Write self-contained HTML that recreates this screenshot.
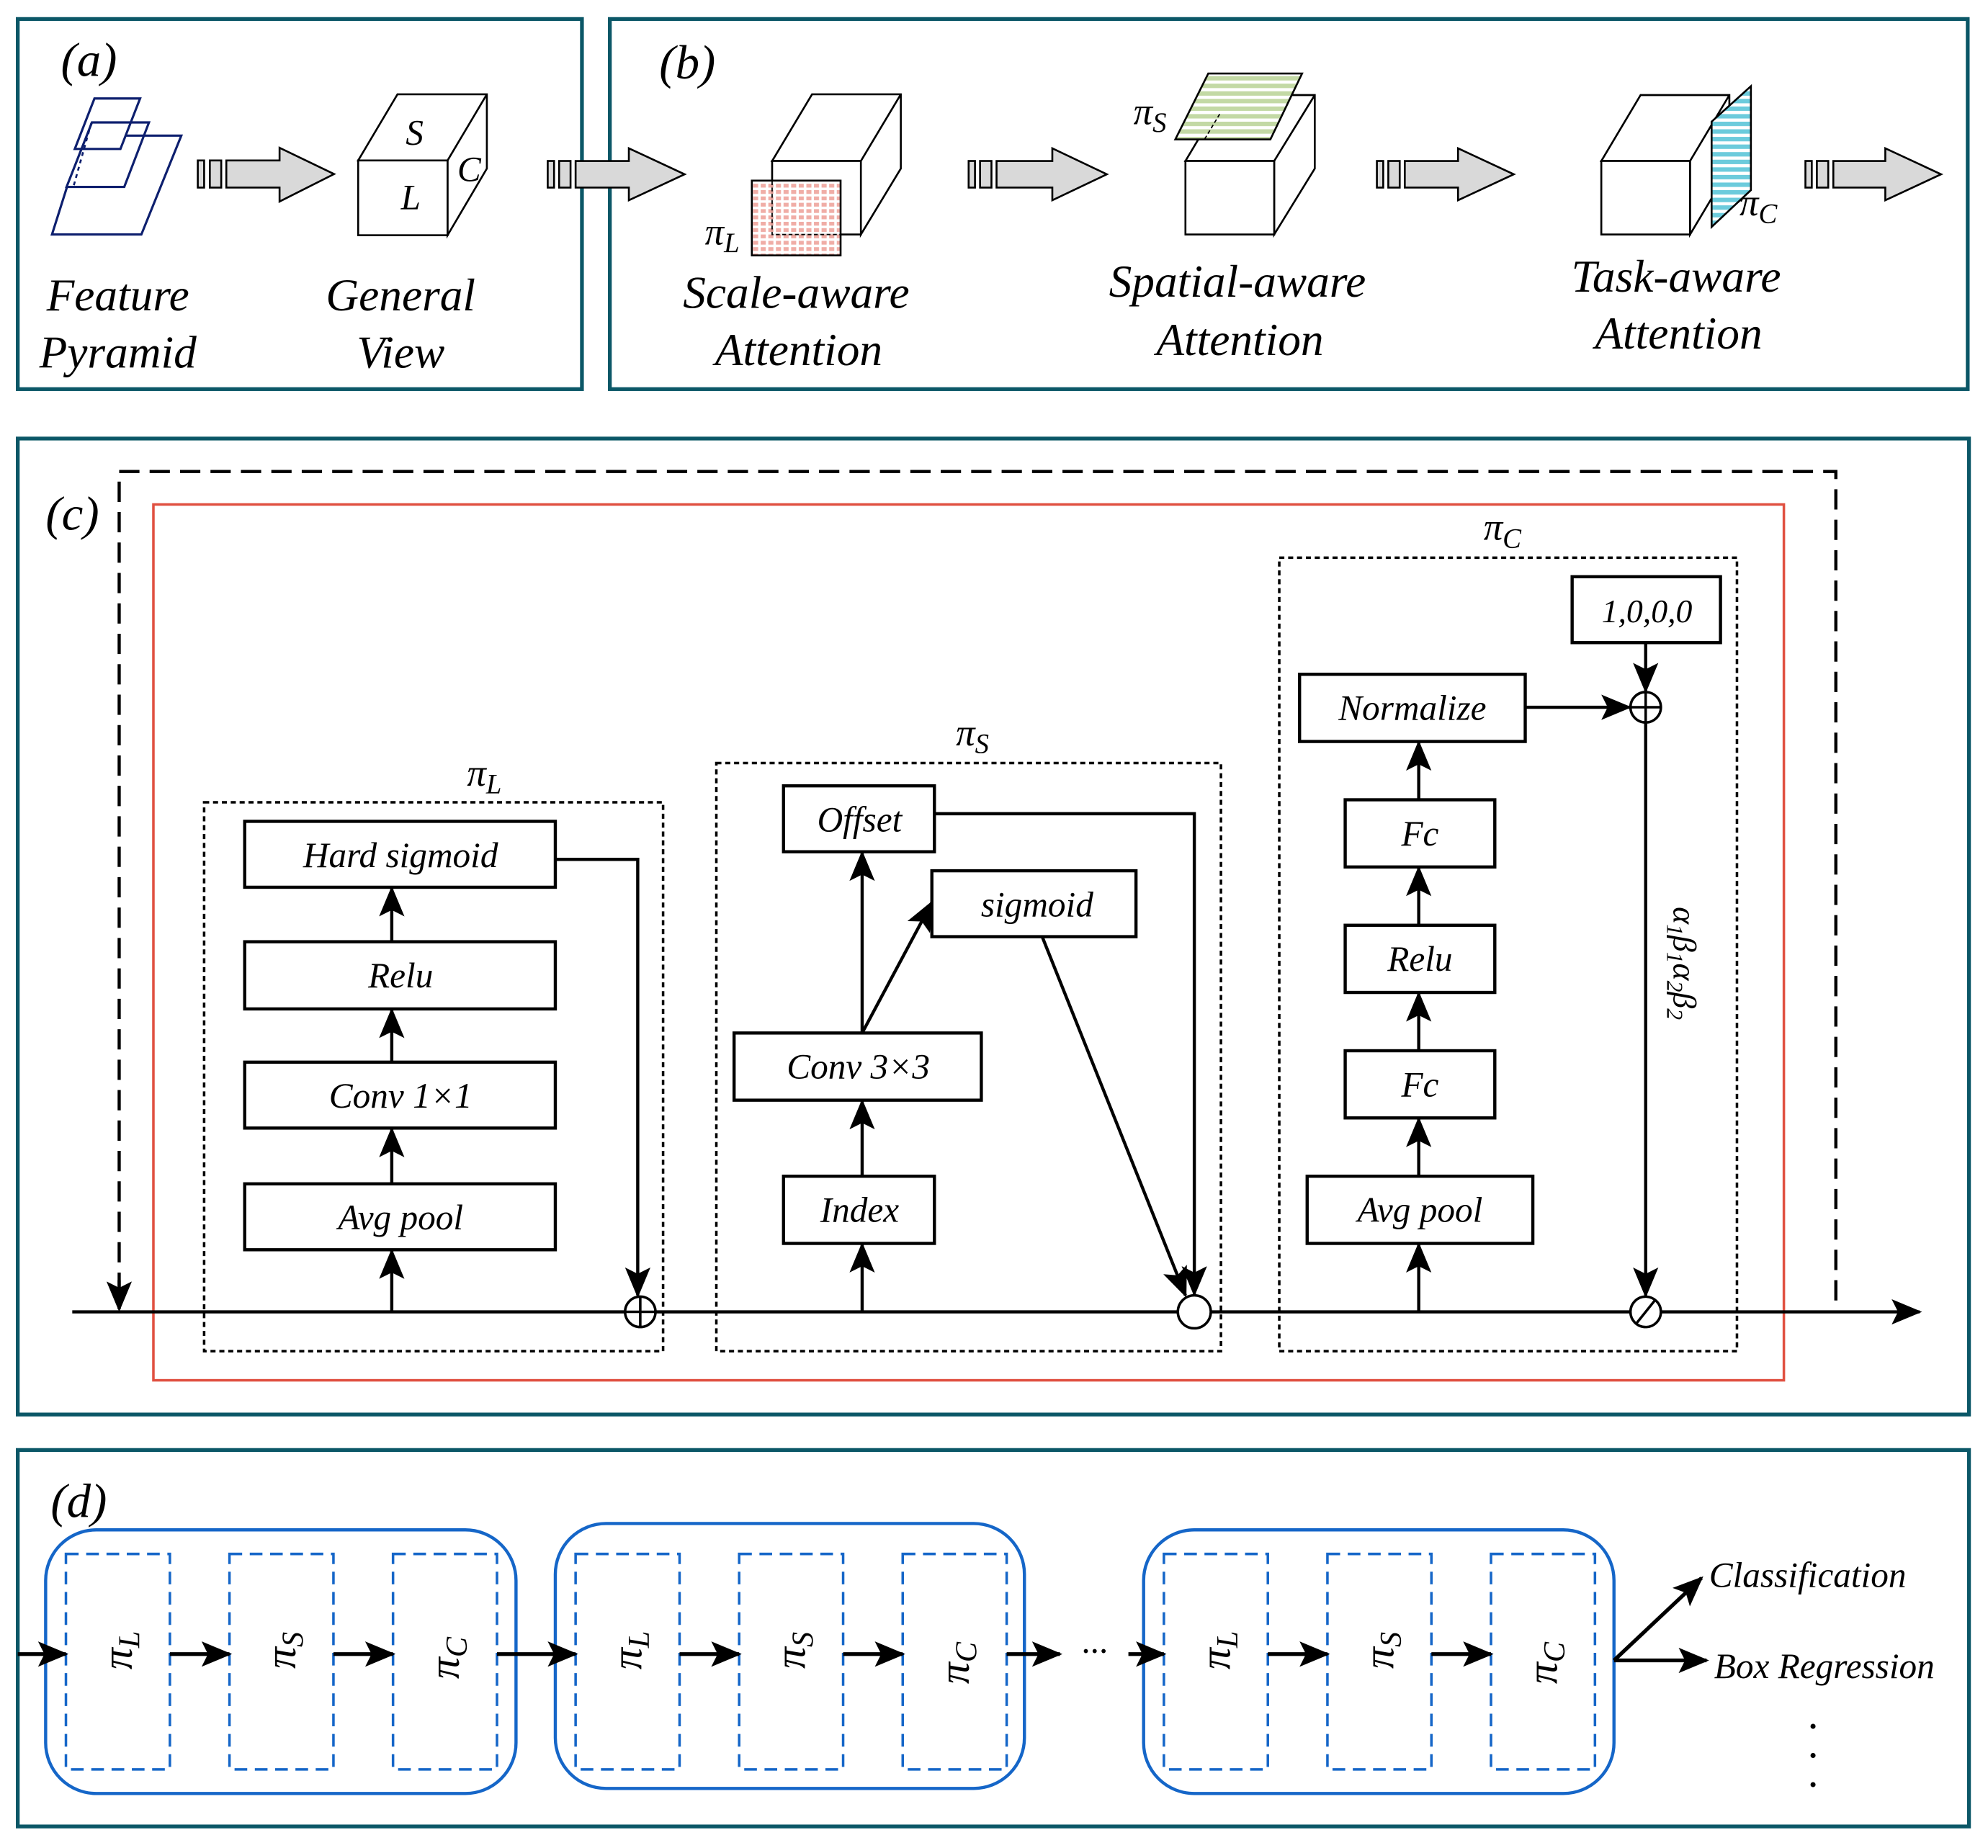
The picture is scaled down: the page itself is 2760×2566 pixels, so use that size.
<!DOCTYPE html>
<html><head><meta charset="utf-8">
<style>
html,body{margin:0;padding:0;background:#fff;}
svg{display:block;}
text{font-family:"Liberation Serif",serif;font-style:italic;fill:#000;}
</style></head>
<body>
<svg width="2760" height="2566" viewBox="0 0 1568 1458" preserveAspectRatio="none" xmlns="http://www.w3.org/2000/svg">
<defs>
<marker id="ah" markerWidth="10" markerHeight="10" refX="9" refY="5" orient="auto" markerUnits="userSpaceOnUse" viewBox="0 0 10 10">
<path d="M0,0 L10,5 L0,10 Z" fill="#000"/></marker>
<marker id="ahb" markerWidth="24" markerHeight="20" refX="22" refY="10" orient="auto" markerUnits="userSpaceOnUse" viewBox="0 0 24 20">
<path d="M0,0 L24,10 L0,20 L5,10 Z" fill="#000"/></marker>
<pattern id="pr" width="6" height="5" patternUnits="userSpaceOnUse"><rect width="6" height="5" fill="#fff"/><rect width="4" height="3" fill="#eea49c"/></pattern>
<pattern id="pg" width="10" height="6" patternUnits="userSpaceOnUse"><rect width="10" height="6" fill="#fff"/><rect width="10" height="3.5" fill="#c3d9a5"/></pattern>
<pattern id="pb" width="10" height="6" patternUnits="userSpaceOnUse"><rect width="10" height="6" fill="#fff"/><rect width="10" height="3.5" fill="#6ccbdc"/></pattern>
</defs>

<g fill="none" stroke="#0b5767" stroke-width="3">
<rect x="14" y="15" width="445" height="292"/>
<rect x="481" y="15" width="1071" height="292"/>
<rect x="14" y="346" width="1539" height="770"/>
<rect x="14" y="1144" width="1539" height="297"/>
</g>

<text x="48" y="60" font-size="38">(a)</text>
<g fill="none" stroke="#0d1f6e" stroke-width="1.8">
<path d="M98.5,107 H143 L111.5,185 H41 L53,147"/>
<path d="M72.5,96.6 H117.5 L98,147.5 H52.5 Z"/>
<path d="M74.5,77.7 H110.5 L95,117.5 H59 Z"/>
</g>
<path d="M72,97 L58,147" stroke="#0d1f6e" stroke-width="1.5" stroke-dasharray="3,3" fill="none"/>
<g stroke="#000" stroke-width="1.5" fill="#d9d9d9">
<rect x="156" y="126.6" width="5" height="21.4"/><rect x="165.5" y="126.6" width="9" height="21.4"/>
<path d="M178.5,126.6 H220.5 V116.6 L263.5,137.3 L220.5,159 V148 H178.5 Z"/>
</g>
<g stroke="#000" stroke-width="1.5" fill="#fff">
<path d="M282.5,126.6 L313.5,74.4 H384 V133 L353,185.6 V126.6 Z"/>
<rect x="282.5" y="126.6" width="70.5" height="59"/>
<path d="M353,126.6 L384,74.4"/>
</g>
<text x="327" y="114" font-size="28" text-anchor="middle">S</text>
<text x="324" y="165" font-size="28" text-anchor="middle">L</text>
<text x="370" y="143" font-size="28" text-anchor="middle">C</text>
<text x="93" y="245" font-size="36" text-anchor="middle">Feature</text>
<text x="93" y="290" font-size="36" text-anchor="middle">Pyramid</text>
<text x="316" y="245" font-size="36" text-anchor="middle">General</text>
<text x="316" y="290" font-size="36" text-anchor="middle">View</text>

<g stroke="#000" stroke-width="1.5" fill="#d9d9d9">
<rect x="432" y="127" width="5" height="21"/><rect x="441" y="127" width="9" height="21"/>
<path d="M454,127 H496 V117 L540,137.5 L496,158 V148 H454 Z"/>
<rect x="764" y="127" width="5" height="21"/><rect x="773" y="127" width="9" height="21"/>
<path d="M786,127 H830 V117 L873,137.5 L830,158 V148 H786 Z"/>
<rect x="1086" y="127" width="5" height="21"/><rect x="1095" y="127" width="9" height="21"/>
<path d="M1108,127 H1150 V117 L1194,137.5 L1150,158 V148 H1108 Z"/>
<rect x="1424" y="127" width="5" height="21"/><rect x="1433" y="127" width="9" height="21"/>
<path d="M1446,127 H1487 V117 L1531,137.5 L1487,158 V148 H1446 Z"/>
</g>

<text x="520" y="62" font-size="38">(b)</text>
<g stroke="#000" stroke-width="1.5" fill="#fff">
<path d="M609,127 L640.5,74.4 H710.5 V133 L679,185 V127 Z"/>
<rect x="609" y="127" width="70" height="58"/><path d="M679,127 L710.5,74.4"/>
</g>
<rect x="593" y="142.5" width="70" height="59" fill="url(#pr)" stroke="#000" stroke-width="1.5" fill-opacity="0.9"/>
<path d="M609,143 V185 H663" stroke="#000" stroke-width="1" fill="none" stroke-dasharray="3,2"/>
<text x="556" y="193" font-size="30">π<tspan font-size="22" dy="6">L</tspan></text>
<text x="628" y="243" font-size="36" text-anchor="middle">Scale-aware</text>
<text x="630" y="288" font-size="36" text-anchor="middle">Attention</text>

<g stroke="#000" stroke-width="1.5" fill="#fff">
<path d="M935,127 L966,75 H1037 V133 L1005,185 V127 Z"/>
<rect x="935" y="127" width="70" height="58"/><path d="M1005,127 L1037,75"/>
</g>
<path d="M953,58 H1027 L1002,110 H927 Z" fill="url(#pg)" stroke="#000" stroke-width="1.5"/>
<path d="M962,90 L950,110" stroke="#000" stroke-width="1" stroke-dasharray="3,2"/>
<text x="894" y="98" font-size="30">π<tspan font-size="22" dy="6">S</tspan></text>
<text x="976" y="234" font-size="36" text-anchor="middle">Spatial-aware</text>
<text x="978" y="280" font-size="36" text-anchor="middle">Attention</text>

<g stroke="#000" stroke-width="1.5" fill="#fff">
<path d="M1263,127 L1294,75 H1364 V133 L1333,185 V127 Z"/>
<rect x="1263" y="127" width="70" height="58"/><path d="M1333,127 L1364,75"/>
</g>
<path d="M1350,96 L1381,68 V150 L1350,179 Z" fill="url(#pb)" stroke="#000" stroke-width="1.5"/>
<text x="1372" y="170" font-size="30">π<tspan font-size="22" dy="6">C</tspan></text>
<text x="1322" y="230" font-size="36" text-anchor="middle">Task-aware</text>
<text x="1324" y="275" font-size="36" text-anchor="middle">Attention</text>

<text x="36" y="418" font-size="38">(c)</text>
<path d="M94,1020 V372 H1448 V1035" fill="none" stroke="#000" stroke-width="2.5" stroke-dasharray="16,8"/>
<path d="M94,1010 V1033" stroke="#000" stroke-width="2.5" marker-end="url(#ahb)"/>
<rect x="121" y="398" width="1286" height="691" fill="none" stroke="#e05040" stroke-width="2"/>
<path d="M57,1035 H1514" stroke="#000" stroke-width="2.5" marker-end="url(#ahb)"/>

<g fill="none" stroke="#000" stroke-width="2" stroke-dasharray="4,3">
<rect x="161" y="633" width="362" height="433"/>
<rect x="565" y="602" width="398" height="464"/>
<rect x="1009" y="440" width="361" height="626"/>
</g>
<text x="382" y="620" font-size="30" text-anchor="middle">π<tspan font-size="22" dy="6">L</tspan></text>
<text x="767" y="588" font-size="30" text-anchor="middle">π<tspan font-size="22" dy="6">S</tspan></text>
<text x="1185" y="426" font-size="30" text-anchor="middle">π<tspan font-size="22" dy="6">C</tspan></text>

<g fill="#fff" stroke="#000" stroke-width="2.5">
<rect x="193" y="648" width="245" height="52"/>
<rect x="193" y="743" width="245" height="53"/>
<rect x="193" y="838" width="245" height="52"/>
<rect x="193" y="934" width="245" height="52"/>
<rect x="618" y="620" width="119" height="52"/>
<rect x="735" y="687" width="161" height="52"/>
<rect x="579" y="815" width="195" height="53"/>
<rect x="618" y="928" width="119" height="53"/>
<rect x="1025" y="532" width="178" height="53"/>
<rect x="1061" y="631" width="118" height="53"/>
<rect x="1061" y="730" width="118" height="53"/>
<rect x="1061" y="829" width="118" height="53"/>
<rect x="1031" y="928" width="178" height="53"/>
<rect x="1240" y="455" width="117" height="52"/>
</g>
<g font-size="28" text-anchor="middle">
<text x="316" y="684">Hard sigmoid</text>
<text x="316" y="779">Relu</text>
<text x="316" y="874">Conv 1×1</text>
<text x="316" y="970">Avg pool</text>
<text x="678" y="656">Offset</text>
<text x="818" y="723">sigmoid</text>
<text x="677" y="851">Conv 3×3</text>
<text x="678" y="964">Index</text>
<text x="1114" y="568">Normalize</text>
<text x="1120" y="667">Fc</text>
<text x="1120" y="766">Relu</text>
<text x="1120" y="865">Fc</text>
<text x="1120" y="964">Avg pool</text>
<text x="1299" y="491" font-size="26">1,0,0,0</text>
</g>

<g stroke="#000" stroke-width="2.5" fill="none">
<path d="M309,1035 V987" marker-end="url(#ahb)"/>
<path d="M309,934 V891" marker-end="url(#ahb)"/>
<path d="M309,838 V797" marker-end="url(#ahb)"/>
<path d="M309,743 V701" marker-end="url(#ahb)"/>
<path d="M438,678 H503 V1022" marker-end="url(#ahb)"/>
<path d="M680,1035 V982" marker-end="url(#ahb)"/>
<path d="M680,928 V869" marker-end="url(#ahb)"/>
<path d="M680,815 V673" marker-end="url(#ahb)"/>
<path d="M680,815 L735,712" marker-end="url(#ahb)"/>
<path d="M737,642 H942 V1021" marker-end="url(#ahb)"/>
<path d="M822,739 L935,1022" marker-end="url(#ahb)"/>
<path d="M1119,1035 V982" marker-end="url(#ahb)"/>
<path d="M1119,928 V883" marker-end="url(#ahb)"/>
<path d="M1119,829 V784" marker-end="url(#ahb)"/>
<path d="M1119,730 V685" marker-end="url(#ahb)"/>
<path d="M1119,631 V586" marker-end="url(#ahb)"/>
<path d="M1203,558 H1285" marker-end="url(#ahb)"/>
<path d="M1298,507 V545" marker-end="url(#ahb)"/>
<path d="M1298,570 V1022" marker-end="url(#ahb)"/>
</g>
<g stroke="#000" stroke-width="2" fill="#fff">
<circle cx="505" cy="1035" r="12"/><path d="M493,1035 H517 M505,1023 V1047"/>
<circle cx="942" cy="1035" r="13"/>
<circle cx="1298" cy="558" r="12"/><path d="M1286,558 H1310 M1298,546 V570"/>
<circle cx="1298" cy="1035" r="12"/><path d="M1290,1045 L1306,1025"/>
</g>
<text transform="translate(1320,760) rotate(90)" font-size="26" text-anchor="middle">α<tspan font-size="18" dy="5">1</tspan><tspan dy="-5">β</tspan><tspan font-size="18" dy="5">1</tspan><tspan dy="-5">α</tspan><tspan font-size="18" dy="5">2</tspan><tspan dy="-5">β</tspan><tspan font-size="18" dy="5">2</tspan></text>

<text x="40" y="1197" font-size="38">(d)</text>
<g fill="none" stroke="#1566c8" stroke-width="2.5">
<rect x="36" y="1207" width="371" height="208" rx="40"/>
<rect x="438" y="1202" width="370" height="209" rx="40"/>
<rect x="902" y="1207" width="371" height="208" rx="40"/>
</g>
<g fill="none" stroke="#1566c8" stroke-width="2" stroke-dasharray="10,6">
<rect x="52" y="1226" width="82" height="170"/><rect x="181" y="1226" width="82" height="170"/><rect x="310" y="1226" width="82" height="170"/>
<rect x="454" y="1226" width="82" height="170"/><rect x="583" y="1226" width="82" height="170"/><rect x="712" y="1226" width="82" height="170"/>
<rect x="918" y="1226" width="82" height="170"/><rect x="1047" y="1226" width="82" height="170"/><rect x="1176" y="1226" width="82" height="170"/>
</g>
<g font-size="34" text-anchor="middle">
<text transform="translate(104,1302) rotate(-90)">π<tspan font-size="24" dy="6">L</tspan></text>
<text transform="translate(233,1302) rotate(-90)">π<tspan font-size="24" dy="6">S</tspan></text>
<text transform="translate(362,1308) rotate(-90)">π<tspan font-size="24" dy="6">C</tspan></text>
<text transform="translate(506,1302) rotate(-90)">π<tspan font-size="24" dy="6">L</tspan></text>
<text transform="translate(635,1302) rotate(-90)">π<tspan font-size="24" dy="6">S</tspan></text>
<text transform="translate(764,1312) rotate(-90)">π<tspan font-size="24" dy="6">C</tspan></text>
<text transform="translate(970,1302) rotate(-90)">π<tspan font-size="24" dy="6">L</tspan></text>
<text transform="translate(1099,1302) rotate(-90)">π<tspan font-size="24" dy="6">S</tspan></text>
<text transform="translate(1228,1312) rotate(-90)">π<tspan font-size="24" dy="6">C</tspan></text>
</g>
<g stroke="#000" stroke-width="3" fill="none">
<path d="M14,1305 H52" marker-end="url(#ahb)"/>
<path d="M134,1305 H181" marker-end="url(#ahb)"/>
<path d="M263,1305 H310" marker-end="url(#ahb)"/>
<path d="M392,1305 H454" marker-end="url(#ahb)"/>
<path d="M536,1305 H583" marker-end="url(#ahb)"/>
<path d="M665,1305 H712" marker-end="url(#ahb)"/>
<path d="M794,1305 H836" marker-end="url(#ahb)"/>
<path d="M890,1305 H918" marker-end="url(#ahb)"/>
<path d="M1000,1305 H1047" marker-end="url(#ahb)"/>
<path d="M1129,1305 H1176" marker-end="url(#ahb)"/>
<path d="M1273,1310 L1342,1245" marker-end="url(#ahb)"/>
<path d="M1273,1310 H1346" marker-end="url(#ahb)"/>
</g>
<text x="863" y="1312" font-size="28" text-anchor="middle">···</text>
<text x="1348" y="1252" font-size="28">Classification</text>
<text x="1352" y="1324" font-size="28">Box Regression</text>
<g fill="#000"><circle cx="1430" cy="1362" r="2"/><circle cx="1430" cy="1385" r="2"/><circle cx="1430" cy="1408" r="2"/></g>
</svg>
</body></html>
